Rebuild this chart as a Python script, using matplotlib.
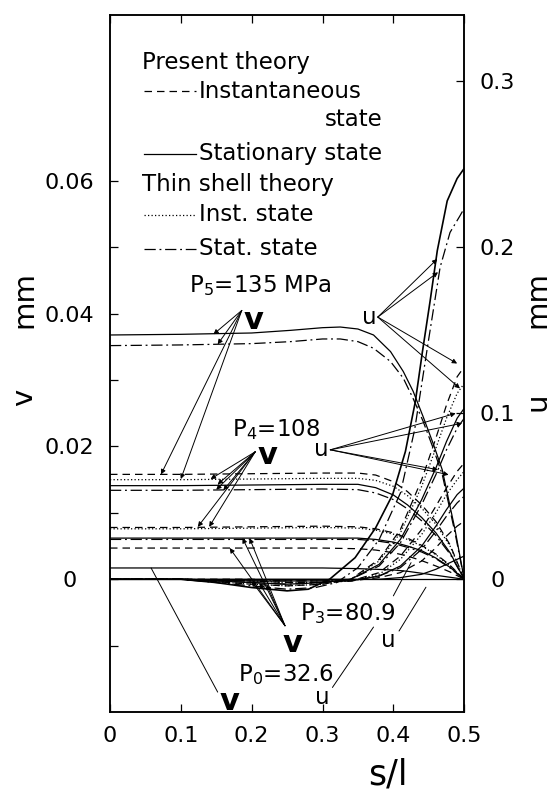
import matplotlib
matplotlib.use("Agg")
import matplotlib.pyplot as plt
from matplotlib.ticker import FixedLocator

plt.rcParams['font.family'] = ['DejaVu Sans']
plt.rcParams['font.size'] = 16

# circumferential displacement v (mm), stationary/thin-shell curves for P5
s_p5 = [0, 0.1, 0.2, 0.255, 0.3, 0.325, 0.35, 0.372, 0.396, 0.414, 0.428, 0.442, 0.456, 0.469, 0.487, 0.5]
v_p5_stat = [0.0368, 0.0369, 0.0371, 0.0375, 0.0379, 0.0380, 0.0377, 0.0368, 0.0343, 0.0313, 0.0283, 0.0245, 0.0205, 0.0165, 0.0075, 0.0]
v_p5_thin_stat = [0.0352, 0.0353, 0.0355, 0.0358, 0.0362, 0.0362, 0.0358, 0.0348, 0.0328, 0.0303, 0.0272, 0.0238, 0.0198, 0.0158, 0.0070, 0.0]

# lower v curves share one s grid
s_v = [0, 0.1, 0.2, 0.3, 0.35, 0.375, 0.4, 0.42, 0.44, 0.46, 0.48, 0.5]
v_p5_inst = [0.0158, 0.0158, 0.0159, 0.0160, 0.0160, 0.0157, 0.0147, 0.0132, 0.0112, 0.0087, 0.0052, 0.0]
v_p5_thin_inst = [0.0150, 0.0150, 0.0151, 0.0152, 0.0152, 0.0149, 0.0140, 0.0126, 0.0107, 0.0083, 0.0050, 0.0]
v_p4_stat = [0.0141, 0.0141, 0.0142, 0.0143, 0.0143, 0.0138, 0.0127, 0.0112, 0.0093, 0.0070, 0.0040, 0.0]
v_p4_thin_stat = [0.0134, 0.0134, 0.0135, 0.0136, 0.0135, 0.0130, 0.0120, 0.0106, 0.0088, 0.0066, 0.0038, 0.0]
v_p4_inst = [0.0078, 0.0078, 0.0079, 0.0080, 0.0079, 0.0076, 0.0070, 0.0062, 0.0051, 0.0038, 0.0021, 0.0]
v_p4_thin_inst = [0.0076, 0.0076, 0.0077, 0.0078, 0.0077, 0.0074, 0.0068, 0.0060, 0.0050, 0.0037, 0.0020, 0.0]
v_p3_stat = [0.0062, 0.0062, 0.0062, 0.0062, 0.0062, 0.0060, 0.0056, 0.0050, 0.0043, 0.0032, 0.0018, 0.0]
v_p3_thin_stat = [0.0060, 0.0060, 0.0060, 0.0060, 0.0060, 0.0058, 0.0054, 0.0048, 0.0041, 0.0031, 0.0017, 0.0]
v_p3_inst = [0.0047, 0.0047, 0.0047, 0.0047, 0.0046, 0.0044, 0.0040, 0.0035, 0.0028, 0.0020, 0.0011, 0.0]
v_p0_stat = [0.0017, 0.0017, 0.0017, 0.0017, 0.0016, 0.0015, 0.0014, 0.0012, 0.0009, 0.0006, 0.0003, 0.0]

# axial displacement u (mm)
s_u_p5 = [0, 0.1, 0.15, 0.2, 0.25, 0.28, 0.31, 0.346, 0.375, 0.399, 0.417, 0.431, 0.441, 0.452, 0.462, 0.476, 0.49, 0.5]
u_p5_stat = [0, 0, -0.002, -0.005, -0.007, -0.006, 0, 0.013, 0.031, 0.051, 0.077, 0.107, 0.137, 0.168, 0.198, 0.228, 0.2415, 0.2476]
s_u_p5t = [0, 0.1, 0.15, 0.2, 0.25, 0.29, 0.32, 0.35, 0.38, 0.41, 0.43, 0.45, 0.466, 0.48, 0.494, 0.5]
u_p5_thin_stat = [0, 0, -0.002, -0.004, -0.006, -0.005, -0.002, 0.007, 0.024, 0.052, 0.090, 0.145, 0.188, 0.209, 0.219, 0.2235]

s_u = [0, 0.1, 0.2, 0.25, 0.3, 0.34, 0.38, 0.41, 0.44, 0.46, 0.475, 0.49, 0.5]
u_p5_inst = [0, 0, -0.003, -0.004, -0.003, 0, 0.012, 0.030, 0.060, 0.085, 0.105, 0.122, 0.128]
u_p5_thin_inst = [0, 0, -0.003, -0.004, -0.003, 0, 0.011, 0.028, 0.056, 0.079, 0.097, 0.112, 0.118]
u_p4_stat = [0, 0, -0.002, -0.003, -0.002, 0, 0.009, 0.024, 0.048, 0.067, 0.083, 0.097, 0.103]
u_p4_thin_stat = [0, 0, -0.002, -0.003, -0.002, 0, 0.008, 0.022, 0.045, 0.063, 0.078, 0.091, 0.097]
u_p4_inst = [0, 0, -0.001, -0.002, -0.002, -0.001, 0.004, 0.014, 0.030, 0.044, 0.055, 0.065, 0.070]
u_p4_thin_inst = [0, 0, -0.001, -0.002, -0.002, -0.001, 0.003, 0.012, 0.027, 0.040, 0.051, 0.060, 0.065]
u_p3_stat = [0, 0, -0.001, -0.001, -0.001, -0.001, 0.002, 0.008, 0.020, 0.032, 0.042, 0.051, 0.055]
u_p3_thin_stat = [0, 0, -0.001, -0.001, -0.001, -0.001, 0.002, 0.007, 0.018, 0.029, 0.038, 0.046, 0.050]
u_p3_inst = [0, 0, 0, -0.001, -0.001, -0.001, 0.001, 0.004, 0.011, 0.019, 0.026, 0.032, 0.035]
u_p0_stat = [0, 0, 0, 0, 0, 0, 0, 0.001, 0.003, 0.006, 0.009, 0.012, 0.014]

x_ticks = [0, 0.1, 0.2, 0.3, 0.4, 0.5]
x_labels = ['0', '0.1', '0.2', '0.3', '0.4', '0.5']
v_ticks = [0, 0.02, 0.04, 0.06]
v_labels = ['0', '0.02', '0.04', '0.06']
v_minor = [-0.01, 0.01, 0.03, 0.05]
u_ticks = [0, 0.1, 0.2, 0.3]
u_labels = ['0', '0.1', '0.2', '0.3']

LW = 0.9
DASH = (0, (6, 4))
DOT = (0, (1, 1.8))
DASHDOT = (0, (9, 3, 1.5, 3))
styles = {'inst': DASH, 'stat': '-', 'thin_inst': DOT, 'thin_stat': DASHDOT}

fig = plt.figure(figsize=(5.5, 7.92), dpi=100)
ax = fig.add_axes([0.2, 0.101, 0.644, 0.880])
ax2 = ax.twinx()

ax.set_xlim(0, 0.5)
ax.set_ylim(-0.02, 0.085)
ax2.set_ylim(-0.08, 0.34)

ax.axhline(0, color='k', lw=LW)

# v curves
ax.plot(s_p5, v_p5_stat, color='k', lw=LW, ls=styles['stat'])
ax.plot(s_p5, v_p5_thin_stat, color='k', lw=LW, ls=styles['thin_stat'])
for vals, key in [(v_p5_inst, 'inst'), (v_p5_thin_inst, 'thin_inst'),
                  (v_p4_stat, 'stat'), (v_p4_thin_stat, 'thin_stat'),
                  (v_p4_inst, 'inst'), (v_p4_thin_inst, 'thin_inst'),
                  (v_p3_stat, 'stat'), (v_p3_thin_stat, 'thin_stat'),
                  (v_p3_inst, 'inst'), (v_p0_stat, 'stat')]:
    ax.plot(s_v, vals, color='k', lw=LW, ls=styles[key])

# u curves
ax2.plot(s_u_p5, u_p5_stat, color='k', lw=1.2, ls='-')
ax2.plot(s_u_p5t, u_p5_thin_stat, color='k', lw=LW, ls=DASHDOT)
for vals, key in [(u_p5_inst, 'inst'), (u_p5_thin_inst, 'thin_inst'),
                  (u_p4_stat, 'stat'), (u_p4_thin_stat, 'thin_stat'),
                  (u_p4_inst, 'inst'), (u_p4_thin_inst, 'thin_inst'),
                  (u_p3_stat, 'stat'), (u_p3_thin_stat, 'thin_stat'),
                  (u_p3_inst, 'inst'), (u_p0_stat, 'stat')]:
    ax2.plot(s_u, vals, color='k', lw=LW, ls=styles[key])

# ticks: inward, labels centred under/beside the ticks
ax.set_xticks(x_ticks)
ax.set_xticklabels(x_labels)
ax.set_yticks(v_ticks)
ax.set_yticklabels(v_labels, ha='center')
ax.yaxis.set_minor_locator(FixedLocator(v_minor))
ax.tick_params(axis='x', direction='in', length=6, width=0.9, top=True, labelsize=16, pad=10)
ax.tick_params(axis='y', direction='in', length=6, width=0.9, labelsize=16, pad=29)
ax.tick_params(which='minor', direction='in', length=6, width=0.9)
ax2.set_yticks(u_ticks)
ax2.set_yticklabels(u_labels, ha='center')
ax2.tick_params(direction='in', length=6, width=0.9, labelsize=16, pad=24)
for a in (ax, ax2):
    for sp in a.spines.values():
        sp.set_linewidth(1.1)

# key drawn inside the frame
FS = 16.5
key_rows = [
    (0.0779, None, 'Present theory'),
    (0.0735, DASH, 'Instantaneous'),
    (0.0641, '-', 'Stationary state'),
    (0.0595, None, 'Thin shell theory'),
    (0.0549, DOT, 'Inst. state'),
    (0.0498, DASHDOT, 'Stat. state'),
]
for yv, ls, label in key_rows:
    if ls is None:
        ax.text(0.045, yv, label, fontsize=FS, va='center', ha='left')
    else:
        ax.plot([0.048, 0.122], [yv, yv], color='k', lw=LW, ls=ls)
        ax.text(0.125, yv, label, fontsize=FS, va='center', ha='left')
ax.text(0.385, 0.0693, 'state', fontsize=FS, va='center', ha='right')

arrow = dict(arrowstyle='-|>', lw=0.7, color='k', mutation_scale=7, shrinkA=0, shrinkB=0)
line = dict(arrowstyle='-', lw=0.7, color='k', shrinkA=0, shrinkB=0)
VFS = 22

# pressure labels with their v pointers
ax.text(0.112, 0.0443, 'P$_5$=135 MPa', fontsize=FS, va='center')
ax.text(0.202, 0.0390, 'v', fontsize=VFS, fontweight='bold', va='center', ha='center')
for tgt in [(0.146, 0.0369), (0.152, 0.0354), (0.072, 0.0158), (0.1, 0.0151)]:
    ax.annotate('', xy=tgt, xytext=(0.186, 0.0405), arrowprops=arrow)

ax.text(0.172, 0.0225, 'P$_4$=108', fontsize=FS, va='center')
ax.text(0.222, 0.0186, 'v', fontsize=VFS, fontweight='bold', va='center', ha='center')
for tgt in [(0.142, 0.0151), (0.152, 0.0143), (0.150, 0.0135), (0.160, 0.0134),
            (0.124, 0.0079), (0.140, 0.0079)]:
    ax.annotate('', xy=tgt, xytext=(0.205, 0.0192), arrowprops=arrow)

ax.text(0.268, -0.0052, 'P$_3$=80.9', fontsize=FS, va='center')
ax.text(0.258, -0.0097, 'v', fontsize=VFS, fontweight='bold', va='center', ha='center')
for tgt in [(0.169, 0.0047), (0.187, 0.0062), (0.197, 0.0062),
            (0.200, -0.0003), (0.211, -0.0006), (0.221, -0.0008)]:
    ax.annotate('', xy=tgt, xytext=(0.247, -0.0070), arrowprops=arrow)

ax.text(0.18, -0.0143, 'P$_0$=32.6', fontsize=FS, va='center')
ax.text(0.168, -0.0184, 'v', fontsize=VFS, fontweight='bold', va='center', ha='center')
ax.annotate('', xy=(0.058, 0.0017), xytext=(0.152, -0.0170), arrowprops=line)

# u pointers
ax2.text(0.366, 0.158, 'u', fontsize=FS, va='center', ha='center')
for tgt in [(0.462, 0.193), (0.463, 0.185), (0.490, 0.130), (0.494, 0.115)]:
    ax2.annotate('', xy=tgt, xytext=(0.378, 0.158), arrowprops=arrow)
ax2.text(0.298, 0.078, 'u', fontsize=FS, va='center', ha='center')
for tgt in [(0.488, 0.100), (0.497, 0.094), (0.463, 0.066), (0.478, 0.063)]:
    ax2.annotate('', xy=tgt, xytext=(0.311, 0.078), arrowprops=arrow)
ax.text(0.393, -0.0092, 'u', fontsize=FS, va='center', ha='center')
ax.annotate('', xy=(0.446, -0.0012), xytext=(0.408, -0.0078), arrowprops=line)
ax.text(0.300, -0.0178, 'u', fontsize=FS, va='center', ha='center')
ax.annotate('', xy=(0.372, -0.0072), xytext=(0.314, -0.0163), arrowprops=line)
ax.annotate('', xy=(0.425, 0.0025), xytext=(0.400, -0.0025), arrowprops=line)

# axis titles
fig.text(0.044, 1 - 397 / 792, 'v', fontsize=21, rotation=90, ha='center', va='center')
fig.text(0.044, 1 - 299 / 792, 'mm', fontsize=21, rotation=90, ha='center', va='center')
fig.text(0.977, 1 - 402 / 792, 'u', fontsize=21, rotation=90, ha='center', va='center')
fig.text(0.977, 1 - 300 / 792, 'mm', fontsize=21, rotation=90, ha='center', va='center')
fig.text(0.706, 0.022, 's/l', fontsize=25, ha='center', va='center')

fig.savefig('out.png', dpi=100)
